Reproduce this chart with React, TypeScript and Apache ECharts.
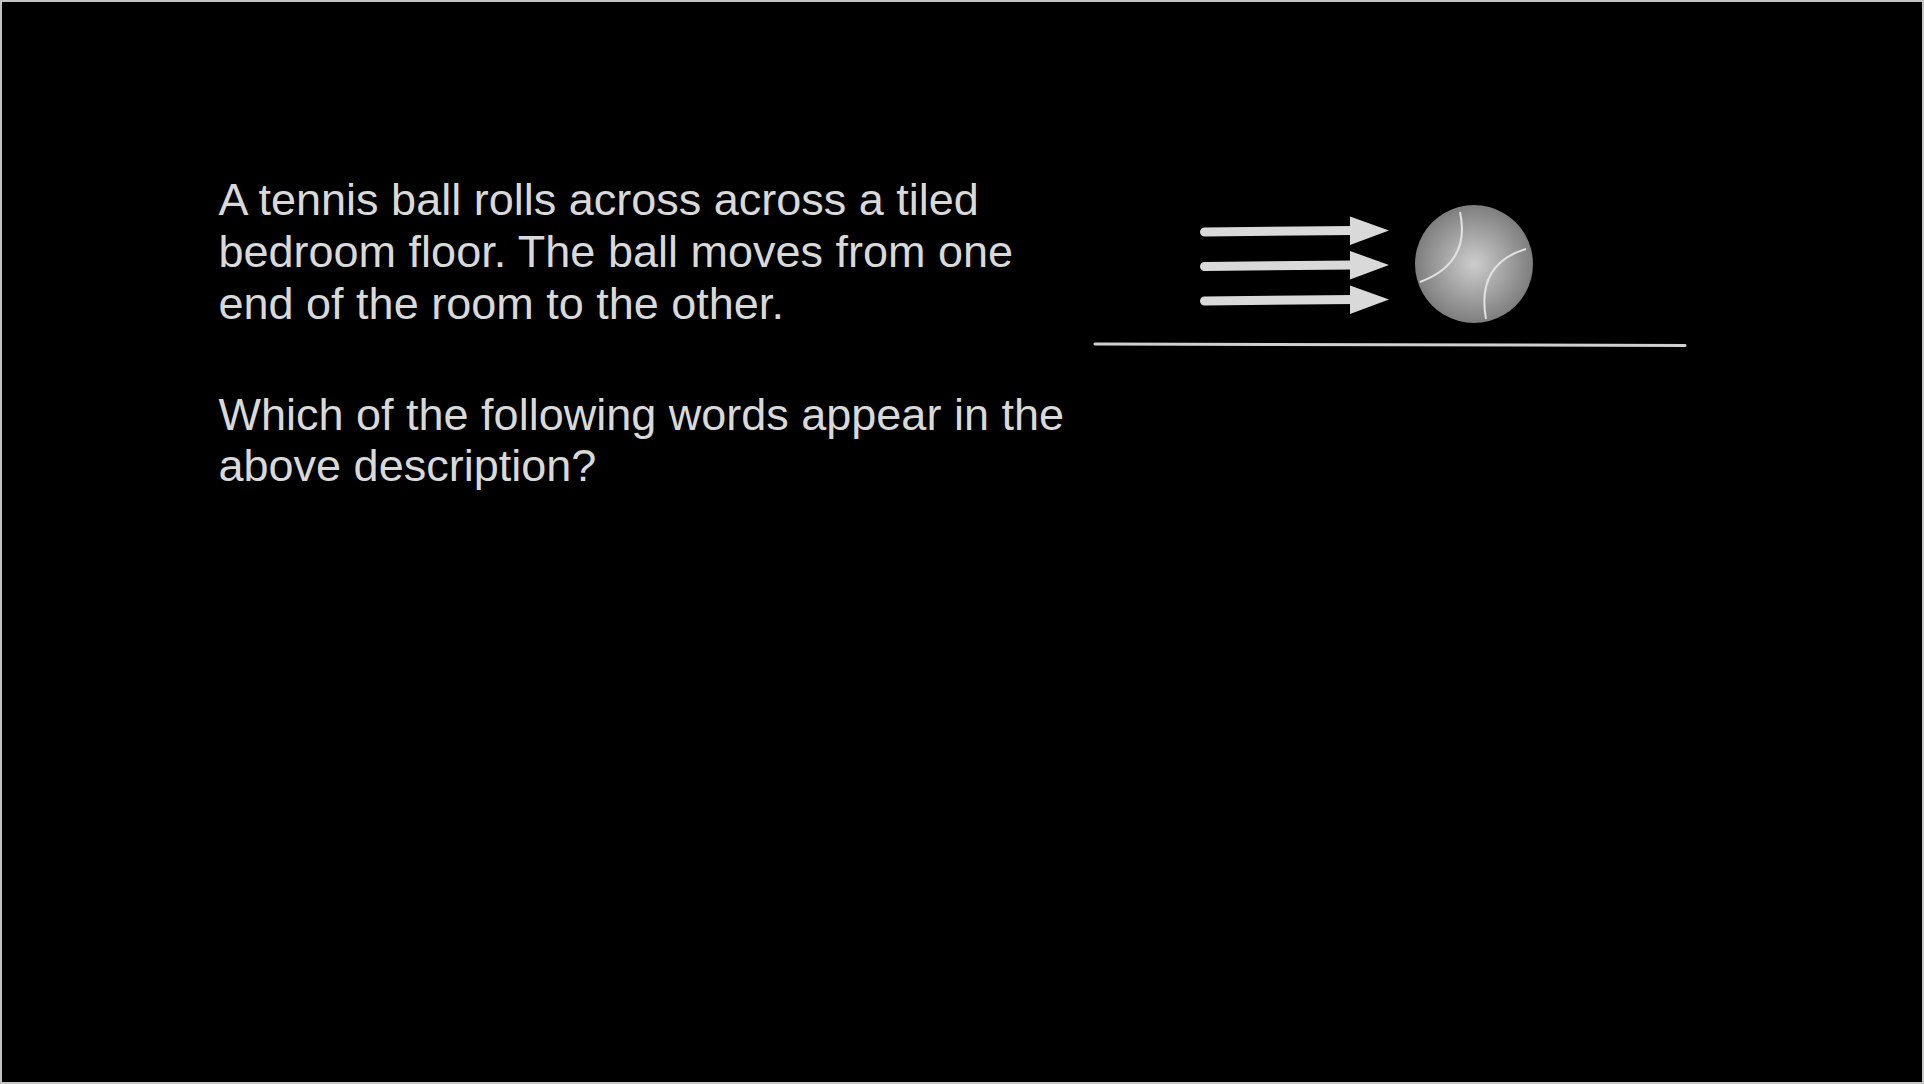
import { useEffect, useRef } from "react";
import * as echarts from "echarts";

// slide content
const DESCRIPTION_LINES = [
  "A tennis ball rolls across across a tiled",
  "bedroom floor. The ball moves from one",
  "end of the room to the other.",
];
const QUESTION_LINES = ["Which of the following words appear in the", "above description?"];
const ARROW_COUNT = 3;

const W = 1924;
const H = 1084;
const FG = "#d9d9d9";
const FONT = "45px 'Liberation Sans', Arial, sans-serif";

function textLines(lines: string[], baseline: number, step: number): any[] {
  // verticalAlign middle puts y on the central baseline (~0.35em above alphabetic)
  return lines.map((t, i) => ({
    type: "text",
    x: 218.5,
    y: baseline + i * step - 15,
    style: { text: t, fill: FG, font: FONT, verticalAlign: "middle", align: "left" },
  }));
}

function arrows(): any[] {
  const out: any[] = [];
  for (let i = 0; i < ARROW_COUNT; i++) {
    const c = 231 + i * 34.5;
    out.push({
      type: "line",
      shape: { x1: 1204.5, y1: c + 1, x2: 1354, y2: c - 0.5 },
      style: { stroke: FG, lineWidth: 9, lineCap: "round" },
    });
    out.push({
      type: "polygon",
      shape: { points: [[1350, c - 14.5], [1389, c - 0.5], [1350, c + 14]] },
      style: { fill: FG },
    });
  }
  return out;
}

function buildOption(): any {
  const cx = 1474;
  const cy = 264;
  return {
    animation: false,
    backgroundColor: "#000",
    graphic: [
      {
        type: "rect",
        shape: { x: 1, y: 1, width: W - 2, height: H - 2 },
        style: { fill: "none", stroke: "#c4c4c4", lineWidth: 2 },
      },
      ...textLines(DESCRIPTION_LINES, 214, 52),
      ...textLines(QUESTION_LINES, 429, 51.5),
      ...arrows(),
      {
        type: "circle",
        shape: { cx, cy, r: 59 },
        style: {
          fill: new echarts.graphic.RadialGradient(0.5, 0.5, 0.5, [
            { offset: 0, color: "#cdcdcd" },
            { offset: 1, color: "#7e7e7e" },
          ]),
        },
      },
      {
        type: "bezierCurve",
        shape: { x1: 1460, y1: 212, x2: 1420, y2: 282, cpx1: 1471, cpy1: 263 },
        style: { stroke: "#e2e2e2", lineWidth: 2, fill: "none" },
      },
      {
        type: "bezierCurve",
        shape: { x1: 1526, y1: 249, x2: 1486, y2: 319, cpx1: 1476, cpy1: 264 },
        style: { stroke: "#e2e2e2", lineWidth: 2, fill: "none" },
      },
      {
        type: "line",
        shape: { x1: 1095, y1: 344, x2: 1685, y2: 345.5 },
        style: { stroke: "#d0d0d0", lineWidth: 3, lineCap: "round" },
      },
    ],
  };
}

export default function App() {
  const ref = useRef<HTMLDivElement | null>(null);

  useEffect(() => {
    if (!ref.current) return;
    const chart = echarts.init(ref.current, undefined, { renderer: "svg" });
    chart.setOption(buildOption());
    return () => chart.dispose();
  }, []);

  return (
    <div ref={ref} style={{ position: "fixed", left: 0, top: 0, width: W, height: H, background: "#000" }} />
  );
}
